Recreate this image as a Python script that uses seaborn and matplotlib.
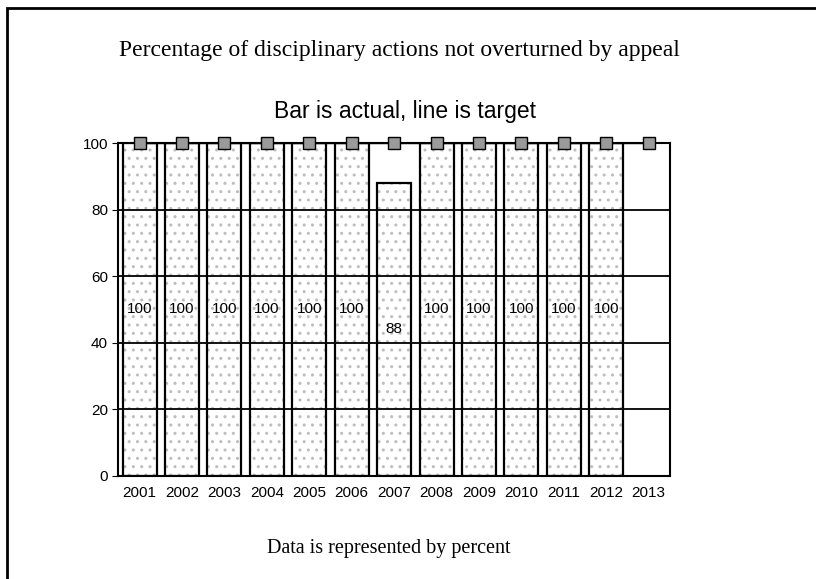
import pandas as pd
import numpy as np
import seaborn as sns
import matplotlib.pyplot as plt
from matplotlib.patches import Rectangle

years = ["2001", "2002", "2003", "2004", "2005", "2006", "2007",
         "2008", "2009", "2010", "2011", "2012", "2013"]
actual = [100, 100, 100, 100, 100, 100, 88, 100, 100, 100, 100, 100, np.nan]
target = [100, 100, 100, 100, 100, 100, 100, 100, 100, 100, 100, 100, 100]

df = pd.DataFrame({"year": years, "actual": actual, "target": target})

sns.set_style("white")
plt.rcParams["font.family"] = ["Liberation Sans", "DejaVu Sans"]
plt.rcParams["text.color"] = "black"
plt.rcParams["xtick.color"] = "black"
plt.rcParams["ytick.color"] = "black"

fig = plt.figure(figsize=(8.16, 5.79), dpi=100)
ax = fig.add_axes([0.145, 0.178, 0.676, 0.575])

# stipple fill first, then the black outlines on top
sns.barplot(data=df, x="year", y="actual", order=years, color="white",
            width=0.8, linewidth=0, ax=ax, zorder=2)
for p in ax.patches:
    p.set_hatch("..")
    p.set_edgecolor("#bdbdbd")
sns.barplot(data=df, x="year", y="actual", order=years, fill=False,
            color="black", width=0.8, linewidth=1.6, ax=ax, zorder=3)

ax.bar_label(ax.containers[1], fmt="%g", label_type="center", fontsize=11,
             color="black", zorder=5)

sns.lineplot(data=df, x="year", y="target", color="black", linewidth=1,
             marker="s", markersize=8, markerfacecolor="#9a9a9a",
             markeredgecolor="black", markeredgewidth=1, ax=ax, zorder=6, clip_on=False)

ax.set_ylim(0, 100)
ax.set_xlim(-0.5, len(years) - 0.5)
ax.set_yticks([0, 20, 40, 60, 80, 100])
ax.yaxis.grid(True, color="black", linewidth=1.3)
ax.set_axisbelow(False)
ax.set_xlabel("")
ax.set_ylabel("")
ax.tick_params(axis="both", labelsize=11, length=4, color="black", left=True, bottom=False)
for s in ax.spines.values():
    s.set_color("black")
    s.set_linewidth(1.5)

serif = ["Liberation Serif", "DejaVu Serif"]
fig.text(0.49, 0.913, "Percentage of disciplinary actions not overturned by appeal",
         ha="center", va="center", fontsize=17, family=serif)
fig.text(0.496, 0.808, "Bar is actual, line is target", ha="center", va="center", fontsize=16.5)
fig.text(0.476, 0.052, "Data is represented by percent", ha="center", va="center",
         fontsize=14.5, family=serif)

fig.add_artist(Rectangle((0.009, -0.01), 1.1, 0.996, transform=fig.transFigure,
                         fill=False, edgecolor="black", linewidth=2))

fig.savefig("out.png", dpi=100)
